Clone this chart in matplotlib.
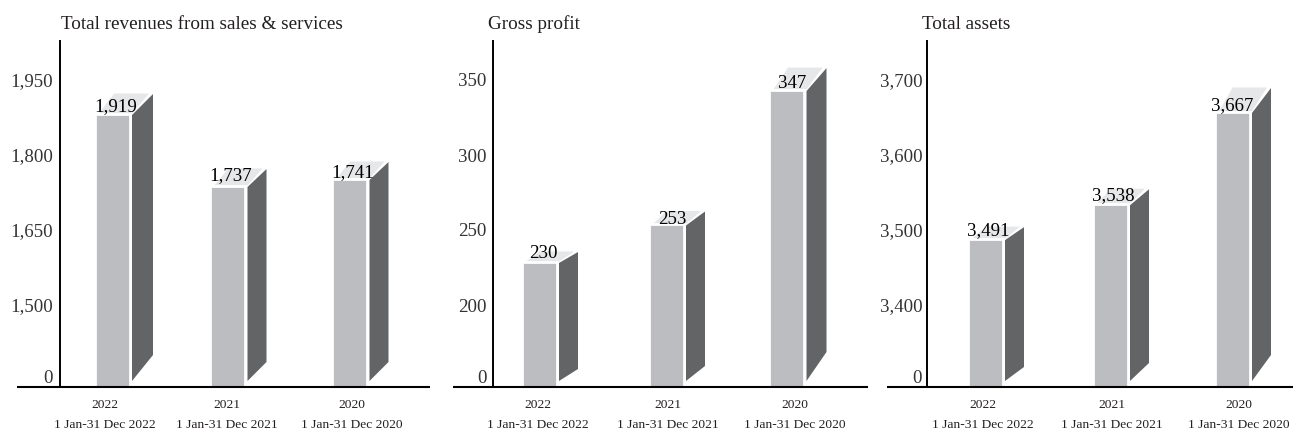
import numpy as np
import matplotlib
matplotlib.use("Agg")
import matplotlib.pyplot as plt

plt.rcParams["font.family"] = ["Liberation Serif", "DejaVu Serif"]

# data
years = ["2022", "2021", "2020"]
periods = ["1 Jan-31 Dec 2022", "1 Jan-31 Dec 2021", "1 Jan-31 Dec 2020"]

titles = ["Total revenues from sales & services", "Gross profit", "Total assets"]

revenue_labels = [1919, 1737, 1741]
profit_labels = [230, 253, 347]
assets_labels = [3491, 3538, 3667]

# drawn height of the front face (the picture's bars do not
# always sit at their printed value)
revenue_heights = [1883, 1739, 1753]
profit_heights = [229, 254, 343.6]
assets_heights = [3488.5, 3535, 3658]

revenue_ticks = [0, 1500, 1650, 1800, 1950]
profit_ticks = [0, 200, 250, 300, 350]
assets_ticks = [0, 3400, 3500, 3600, 3700]

# layout, all in picture pixels
W, H = 1293, 432
BASE_Y = 387
TOP_Y = 41
TITLE_Y = 24
TICK_GAP = 75
FIRST_TICK = 82
PITCH = 120
BAR_W = 35
FRONT = "#bcbdc0"
SIDE = "#636466"
TOP = "#e6e7e8"
INK = "#231f20"

panels = [
    dict(labels=revenue_labels, heights=revenue_heights, ticks=revenue_ticks,
         spine=60, x0=112, right=430, line_from=17, title_dx=1, pad=5,
         nudge=[0, -4.5, -2.5], tick_nudge=[-7, -1, 2],
         side_dx=[21, 19, 19], top_dy=[21, 18, 18], low_dy=[26, 19, 19],
         label_nudge=[4, 3.5, 3.5], label_up=[7, 10, 6]),
    dict(labels=profit_labels, heights=profit_heights, ticks=profit_ticks,
         spine=493, x0=539, right=868, line_from=453, title_dx=-5, pad=4.5,
         nudge=[0, 7, 7.5], tick_nudge=[-1, 2, 8],
         side_dx=[19, 19, 20], top_dy=[11, 14, 23], low_dy=[12, 15, 29],
         label_nudge=[4, 6, 5.5], label_up=[8, 5, 6]),
    dict(labels=assets_labels, heights=assets_heights, ticks=assets_ticks,
         spine=927, x0=985, right=1293, line_from=887, title_dx=-5, pad=3.5,
         nudge=[0, 5, 7], tick_nudge=[-2, 2, 7],
         side_dx=[19, 19, 19], top_dy=[13, 16, 25], low_dy=[14, 18, 26],
         label_nudge=[3, 3, 0], label_up=[8, 8, 6]),
]


def broken_scale(low, step):
    # 0 to the first real tick is squeezed, above it the axis runs in even steps
    def fwd(y):
        y = np.asarray(y, dtype=float)
        return np.where(y <= low, y / low * FIRST_TICK,
                        FIRST_TICK + (y - low) / step * TICK_GAP)

    def inv(p):
        p = np.asarray(p, dtype=float)
        return np.where(p <= FIRST_TICK, p / FIRST_TICK * low,
                        low + (p - FIRST_TICK) / TICK_GAP * step)

    return fwd, inv


fig = plt.figure(figsize=(W / 100, H / 100), dpi=100, facecolor="white")

for p, title in zip(panels, titles):
    left = p["spine"]
    ax = fig.add_axes([left / W, 1 - BASE_Y / H, (p["right"] - left) / W, (BASE_Y - TOP_Y) / H])
    ticks = p["ticks"]
    fwd, inv = broken_scale(ticks[1], ticks[2] - ticks[1])
    ax.set_yscale("function", functions=(fwd, inv))
    ax.set_ylim(0, float(inv(BASE_Y - TOP_Y)))
    ax.set_xlim(left - p["x0"], p["right"] - p["x0"])

    for i, h in enumerate(p["heights"]):
        x = i * PITCH + p["nudge"][i]
        ax.bar(x, h, width=BAR_W, color=FRONT, edgecolor="white", linewidth=2, zorder=3)

        # fake 3D faces, offsets in pixels on top of the bar's height
        top_px = float(fwd(h)) - 1.5
        xr = x + BAR_W / 2
        dx = p["side_dx"][i]
        dy = p["top_dy"][i]
        side_x = [xr + 2.5, xr + 2.5 + dx, xr + 2.5 + dx, xr + 2.5]
        side_y = [top_px, top_px + dy, 6 + p["low_dy"][i], 6]
        ax.fill(side_x, inv(np.array(side_y)), color=SIDE, lw=0, zorder=3)

        top_x = [x - BAR_W / 2 + 4, x - BAR_W / 2 + 4 + dx * 0.75, xr + 2.5 + dx - 4, xr + 2]
        top_y = [top_px + 1, top_px + dy + 0.5, top_px + dy + 0.5, top_px + 1]
        ax.fill(top_x, inv(np.array(top_y)), color=TOP, lw=0, zorder=2)

        ax.annotate(f"{p['labels'][i]:,}", xy=(x + p["label_nudge"][i], h),
                    xytext=(0, p["label_up"][i] * 0.72), textcoords="offset points",
                    ha="center", va="center", fontsize=13.6, color="black", zorder=5)

    # axes lines
    for s in ["top", "right", "bottom"]:
        ax.spines[s].set_visible(False)
    ax.spines["left"].set_linewidth(1.4)
    ax.spines["left"].set_color("black")
    ax.spines["left"].set_zorder(6)
    ax.plot([p["line_from"] - p["x0"], p["right"] - p["x0"]], [0, 0], color="black", lw=1.5,
            transform=ax.get_xaxis_transform(), clip_on=False, zorder=6,
            solid_capstyle="butt")

    ax.set_yticks(ticks)
    ax.set_yticklabels([f"{t:,}" for t in ticks], fontsize=13.6, color="#333333")
    ax.get_yticklabels()[0].set_verticalalignment("bottom")
    ax.tick_params(axis="y", length=0, pad=p["pad"])
    ax.minorticks_off()

    ax.set_xticks([i * PITCH + p["nudge"][i] + p["tick_nudge"][i] for i in range(3)])
    ax.set_xticklabels([f"{y}\n{d}" for y, d in zip(years, periods)], fontsize=9.7,
                       color=INK, linespacing=1.8)
    ax.tick_params(axis="x", length=0, pad=9)

    ax.text(p["title_dx"] / (p["right"] - left), 1 + (TOP_Y - TITLE_Y) / (BASE_Y - TOP_Y), title,
            transform=ax.transAxes, fontsize=13.8, color=INK, ha="left", va="center")

fig.savefig("out.png", dpi=100)
